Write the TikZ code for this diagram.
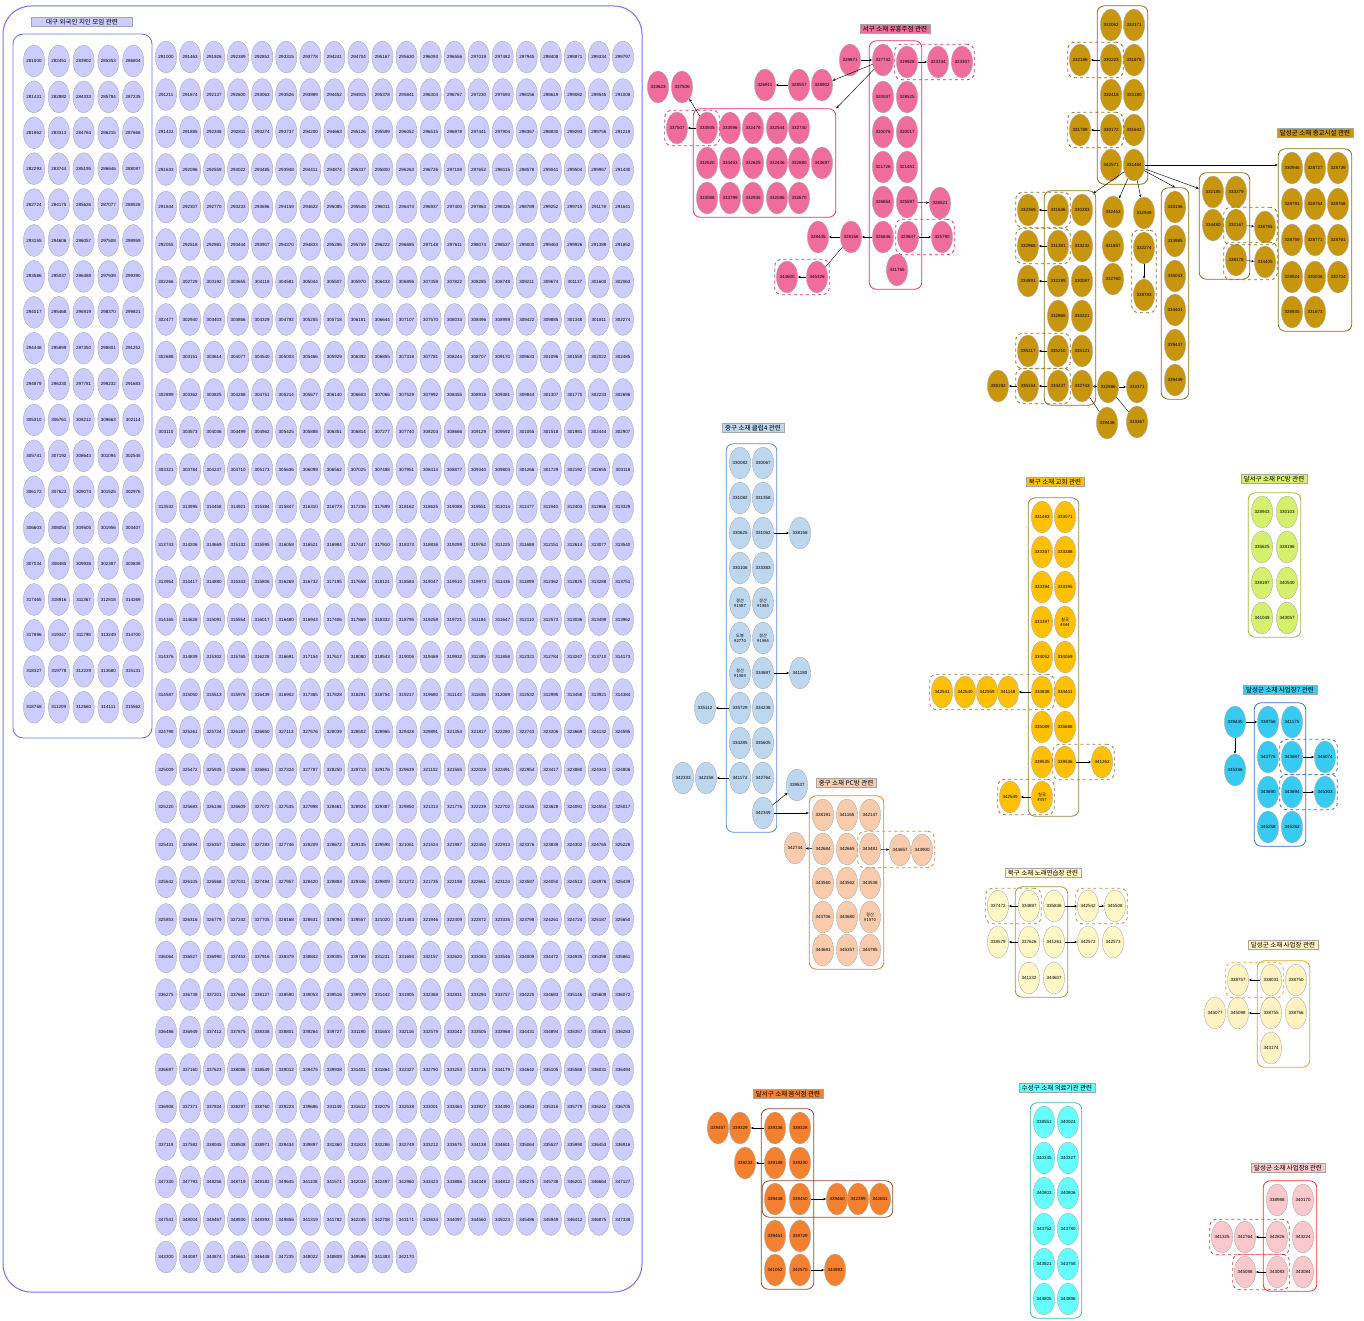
\documentclass[tikz,border=0pt]{standalone}
\usepackage{fontspec}
\setmainfont{Liberation Sans}
\newfontfamily\kr{Noto Sans CJK KR}
\usetikzlibrary{shapes.geometric,fit,arrows.meta,calc}

\definecolor{lavF}{HTML}{CCCCFF}
\definecolor{lavD}{HTML}{7272EE}
\definecolor{pinkF}{HTML}{F06C9B}
\definecolor{pinkD}{HTML}{E0306A}
\definecolor{goldF}{HTML}{C8960C}
\definecolor{goldD}{HTML}{8B6D1C}
\definecolor{cluF}{HTML}{BDD7EE}
\definecolor{cluD}{HTML}{4F8FCC}
\definecolor{peaF}{HTML}{F8CBAD}
\definecolor{peaD}{HTML}{ED7D31}
\definecolor{yelF}{HTML}{FFC000}
\definecolor{yelD}{HTML}{9C7F3C}
\definecolor{limF}{HTML}{D5F06C}
\definecolor{limD}{HTML}{9BBB3B}
\definecolor{cyaF}{HTML}{38CBF2}
\definecolor{cyaD}{HTML}{2E75B6}
\definecolor{crmF}{HTML}{FFF8C6}
\definecolor{crmD}{HTML}{9E9A3C}
\definecolor{cr2F}{HTML}{FFF2C2}
\definecolor{cr2D}{HTML}{D9A82A}
\definecolor{orgF}{HTML}{F4812F}
\definecolor{orgD}{HTML}{8B4B2B}
\definecolor{aquF}{HTML}{66FFFF}
\definecolor{aquD}{HTML}{3AB8B8}
\definecolor{rosF}{HTML}{F8C8CC}
\definecolor{rosD}{HTML}{E8383C}

\tikzset{
  pt/.style={ellipse, draw=gray!65, line width=0.4pt, inner sep=0pt,
    minimum width=21pt, minimum height=32pt, align=center,
    font=\fontsize{4.5}{4.9}\selectfont},
  kpt/.style={pt, font=\kr\fontsize{4.2}{5}\selectfont},
  grp/.style={rounded corners=7pt, line width=0.8pt, inner sep=3pt},
  dgrp/.style={grp, dashed, inner sep=1.5pt},
  ttl/.style={draw=gray!70, line width=0.4pt, inner xsep=3pt, inner ysep=1.5pt,
    font=\kr\fontsize{6.5}{7}\selectfont},
  lnk/.style={-{Stealth[length=3pt,width=2.4pt]}, line width=0.45pt},
}

\begin{document}
\begin{tikzpicture}[x=1pt, y=-1pt]
\useasboundingbox (0,0) rectangle (1364,1321);

% 대구 외국인 지인 모임
\draw[lavD, line width=1pt, rounded corners=28pt] (3,6) rectangle (642,1292);
\draw[lavD, line width=0.9pt, rounded corners=10pt] (13,34) rectangle (152,738);
\node[ttl, fill=lavF, minimum width=101pt] (tlav) at (82,22) {대구 외국인 지인 모임 관련};
\foreach \r in {0,...,18}{
  \foreach \c in {0,...,4}{
    \pgfmathtruncatemacro\hi{28+int(\r/5)}
    \pgfmathtruncatemacro\lo{1000+mod(\r*431+\c*1451,9000)}
    \node[pt, fill=lavF] (a-\r-\c) at ({34+24.8*\c},{61+35.9*\r}) {\hi\lo};
  }
}
\foreach \r in {0,...,31}{
  \foreach \c in {0,...,19}{
    \pgfmathtruncatemacro\hi{29+int(\r/6)}
    \pgfmathtruncatemacro\lo{1000+mod(\r*211+\c*463,9000)}
    \node[pt, fill=lavF] (m-\r-\c) at ({166+24.05*\c},{57+37.5*\r}) {\hi\lo};
  }
}
\foreach \c in {0,...,10}{
  \pgfmathtruncatemacro\lo{1000+mod(\c*787+2300,9000)}
  \node[pt, fill=lavF] (m-32-\c) at ({166+24.05*\c},1257) {34\lo};
}

% 서구 소재 유흥주점
\node[ttl, fill=pinkF] (tpink) at (895,29) {서구 소재 유흥주점 관련};
\begin{scope}[every node/.append style={fill=pinkF}]
\node[pt] (p329871) at (850,60) {329871};
\node[pt] (p327742) at (883,60) {327742};
\node[pt] (p319928) at (907,62) {319928};
\node[pt] (p323334) at (938,62) {323334};
\node[pt] (p323307) at (962,62) {323307};
\node[pt] (p320037) at (883,97) {320037};
\node[pt] (p328525) at (907,97) {328525};
\node[pt] (p320076) at (883,132) {320076};
\node[pt] (p320017) at (907,132) {320017};
\node[pt] (p321726) at (883,167) {321726};
\node[pt] (p321451) at (907,167) {321451};
\node[pt] (p326654) at (883,202) {326654};
\node[pt] (p325597) at (907,202) {325597};
\node[pt] (p326521) at (940,203) {326521};
\node[pt] (p326846) at (883,237) {326846};
\node[pt] (p323847) at (908,237) {323847};
\node[pt] (p325790) at (942,237) {325790};
\node[pt] (p331765) at (897,270) {331765};
\node[pt] (p328158) at (851,237) {328158};
\node[pt] (p328445) at (818,237) {328445};
\node[pt] (p345326) at (817,277) {345326};
\node[pt] (p344600) at (787,277) {344600};
\node[pt] (p326911) at (765,85) {326911};
\node[pt] (p328557) at (799,85) {328557};
\node[pt] (p328902) at (822,85) {328902};
\node[pt] (p333623) at (658,87) {333623};
\node[pt] (p337506) at (682,87) {337506};
\node[pt] (p337507) at (677,128) {337507};
\node[pt] (p333505) at (707,128) {333505};
\node[pt] (p333596) at (730,128) {333596};
\node[pt] (p332479) at (753,128) {332479};
\node[pt] (p332544) at (777,128) {332544};
\node[pt] (p332740) at (799,128) {332740};
\node[pt] (p332520) at (707,163) {332520};
\node[pt] (p334453) at (730,163) {334453};
\node[pt] (p332625) at (753,163) {332625};
\node[pt] (p332436) at (777,163) {332436};
\node[pt] (p332880) at (799,163) {332880};
\node[pt] (p343697) at (822,163) {343697};
\node[pt] (p333088) at (707,198) {333088};
\node[pt] (p333799) at (730,198) {333799};
\node[pt] (p332935) at (753,198) {332935};
\node[pt] (p332086) at (777,198) {332086};
\node[pt] (p332670) at (799,198) {332670};
\end{scope}
\node[grp, draw=pinkD, fit=(p327742)(p331765)(p323847)] (pcol) {};
\node[grp, draw=pinkD, fit=(p333505)(p343697)(p333088)] (pbig) {};
\node[dgrp, draw=pinkD, fit=(p319928)(p323307)] {};
\node[dgrp, draw=pinkD, fit=(p323847)(p325790)] {};
\node[dgrp, draw=pinkD, fit=(p344600)(p345326)] {};
\node[dgrp, draw=pinkD, fit=(p337507)(p333505)] {};
\draw[lnk] (p329871) -- (p327742);
\draw[lnk] (p319928) -- (p323334);
\draw[lnk] (p325597) -- (p326521);
\draw[lnk] (p323847) -- (p325790);
\draw[lnk] (p326846) -- (p328158);
\draw[lnk] (p328158) -- (p328445);
\draw (p328158) -- (p345326);
\draw[lnk] (p345326) -- (p344600);
\draw[lnk] (p328557) -- (p326911);
\draw[lnk] (p327742) -- (p328902);
\draw[lnk] (p327742) -- (pbig.north east);
\draw[lnk] (p333505) -- (p337507);
\draw[lnk] (p333505) -- (p337506);

% 달성군 소재 종교시설
\node[ttl, fill=goldF] (tgold) at (1315,133) {달성군 소재 종교시설 관련};
\begin{scope}[every node/.append style={fill=goldF}]
\node[pt] (g332062) at (1111,25) {332062};
\node[pt] (g333171) at (1134,25) {333171};
\node[pt] (g330223) at (1111,60) {330223};
\node[pt] (g331678) at (1134,60) {331678};
\node[pt] (g332186) at (1080,60) {332186};
\node[pt] (g332418) at (1111,95) {332418};
\node[pt] (g333180) at (1134,95) {333180};
\node[pt] (g330172) at (1111,130) {330172};
\node[pt] (g331642) at (1134,130) {331642};
\node[pt] (g331799) at (1080,130) {331799};
\node[pt] (g342571) at (1111,165) {342571};
\node[pt] (g331484) at (1134,165) {331484};
\node[pt] (g330946) at (1292,168) {330946};
\node[pt] (g328727) at (1315,168) {328727};
\node[pt] (g328739) at (1338,168) {328739};
\node[pt] (g328791) at (1292,204) {328791};
\node[pt] (g328754) at (1315,204) {328754};
\node[pt] (g328758) at (1338,204) {328758};
\node[pt] (g328759) at (1292,240) {328759};
\node[pt] (g328771) at (1315,240) {328771};
\node[pt] (g328761) at (1338,240) {328761};
\node[pt] (g328924) at (1292,277) {328924};
\node[pt] (g330036) at (1315,277) {330036};
\node[pt] (g330704) at (1338,277) {330704};
\node[pt] (g328935) at (1292,312) {328935};
\node[pt] (g331673) at (1315,312) {331673};
\node[pt] (g332185) at (1213,192) {332185};
\node[pt] (g333379) at (1236,192) {333379};
\node[pt] (g334480) at (1213,225) {334480};
\node[pt] (g332167) at (1236,225) {332167};
\node[pt] (g336765) at (1265,227) {336765};
\node[pt] (g338178) at (1236,260) {338178};
\node[pt] (g334405) at (1265,262) {334405};
\node[pt] (g333156) at (1175,207) {333156};
\node[pt] (g333985) at (1175,241) {333985};
\node[pt] (g335043) at (1175,276) {335043};
\node[pt] (g334401) at (1175,310) {334401};
\node[pt] (g339447) at (1175,345) {339447};
\node[pt] (g339449) at (1175,380) {339449};
\node[pt] (g332453) at (1113,212) {332453};
\node[pt] (g331857) at (1113,246) {331857};
\node[pt] (g332760) at (1113,279) {332760};
\node[pt] (g332949) at (1144,213) {332949};
\node[pt] (g332274) at (1144,248) {332274};
\node[pt] (g338783) at (1144,295) {338783};
\node[pt] (g331646) at (1058,210) {331646};
\node[pt] (g330283) at (1082,210) {330283};
\node[pt] (g331381) at (1058,246) {331381};
\node[pt] (g333232) at (1082,246) {333232};
\node[pt] (g332299) at (1058,281) {332299};
\node[pt] (g330087) at (1082,281) {330087};
\node[pt] (g332865) at (1058,316) {332865};
\node[pt] (g334221) at (1082,316) {334221};
\node[pt] (g335210) at (1058,351) {335210};
\node[pt] (g335121) at (1082,351) {335121};
\node[pt] (g334437) at (1058,386) {334437};
\node[pt] (g332743) at (1082,386) {332743};
\node[pt] (g332369) at (1028,210) {332369};
\node[pt] (g332968) at (1028,246) {332968};
\node[pt] (g334891) at (1028,281) {334891};
\node[pt] (g335317) at (1028,351) {335317};
\node[pt] (g335164) at (1028,386) {335164};
\node[pt] (g338192) at (998,386) {338192};
\node[pt] (g332986) at (1108,387) {332986};
\node[pt] (g333371) at (1137,387) {333371};
\node[pt] (g339446) at (1107,423) {339446};
\node[pt] (g333367) at (1137,422) {333367};
\end{scope}
\node[grp, draw=goldD, fit=(g332062)(g331484)] (gtop) {};
\node[grp, draw=goldD, fit=(g330946)(g328739)(g331673)] (grel) {};
\node[grp, draw=goldD, fit=(g332185)(g333379)(g338178)] (gmid) {};
\node[grp, draw=goldD, fit=(g333156)(g339449)] (gcol) {};
\node[grp, draw=goldD, fit=(g331646)(g330283)(g332743)] (gleft) {};
\node[dgrp, draw=goldD, fit=(g332186)(g330223)] {};
\node[dgrp, draw=goldD, fit=(g331799)(g330172)] {};
\node[dgrp, draw=goldD, fit=(g332167)(g336765)] {};
\node[dgrp, draw=goldD, fit=(g338178)(g334405)] {};
\node[dgrp, draw=goldD, fit=(g332274)(g338783)] {};
\node[dgrp, draw=goldD, fit=(g332369)(g331646)] {};
\node[dgrp, draw=goldD, fit=(g332968)(g331381)] {};
\node[dgrp, draw=goldD, fit=(g335317)(g335210)] {};
\node[dgrp, draw=goldD, fit=(g335164)(g334437)] {};
\draw[lnk] (g330223) -- (g332186);
\draw[lnk] (g330172) -- (g331799);
\draw[lnk] (g331484) -- (grel.west |- g331484);
\draw[lnk] (g331484) -- ($(gmid.north west)!0.15!(gmid.south west)$);
\draw[lnk] (g331484) -- (gcol.north);
\draw[lnk] (g331484) -- (g332949);
\draw[lnk] (g331484) -- (g332453);
\draw[lnk] (g331484) -- ($(gleft.north east)+(-3,3)$);
\draw[lnk] (g332167) -- (g336765);
\draw[lnk] (g338178) -- (g334405);
\draw[lnk] (g332274) -- (g338783);
\draw[lnk] (g331646) -- (g332369);
\draw[lnk] (g331381) -- (g332968);
\draw[lnk] (g332299) -- (g334891);
\draw[lnk] (g335210) -- (g335317);
\draw[lnk] (g334437) -- (g335164);
\draw[lnk] (g335164) -- (g338192);
\draw[lnk] (g332743) -- (g332986);
\draw[lnk] (g332986) -- (g333371);
\draw (g332743) -- (g339446);
\draw (g332986) -- (g333367);

% 중구 소재 클럽4
\node[ttl, fill=cluF] (tclub) at (753,428) {중구 소재 클럽4 관련};
\begin{scope}[every node/.append style={fill=cluF}]
\node[pt] (c330082) at (740,463) {330082};
\node[pt] (c330067) at (763,463) {330067};
\node[pt] (c331082) at (740,498) {331082};
\node[pt] (c331358) at (763,498) {331358};
\node[pt] (c330625) at (740,533) {330625};
\node[pt] (c331062) at (763,533) {331062};
\node[pt] (c338158) at (800,533) {338158};
\node[pt] (c330106) at (740,568) {330106};
\node[pt] (c333383) at (763,568) {333383};
\node[kpt] (c1987) at (740,603) {경산\\\#1987};
\node[kpt] (c1985) at (763,603) {경산\\\#1985};
\node[kpt] (c2770) at (740,638) {도봉\\\#2770};
\node[kpt] (c1986) at (763,638) {경산\\\#1986};
\node[kpt] (c1984) at (740,673) {경산\\\#1984};
\node[pt] (c334687) at (763,673) {334687};
\node[pt] (c341180) at (800,673) {341180};
\node[pt] (c335729) at (740,708) {335729};
\node[pt] (c334238) at (763,708) {334238};
\node[pt] (c335112) at (705,708) {335112};
\node[pt] (c334285) at (740,743) {334285};
\node[pt] (c335605) at (763,743) {335605};
\node[pt] (c341174) at (740,778) {341174};
\node[pt] (c342764) at (763,778) {342764};
\node[pt] (c342158) at (706,778) {342158};
\node[pt] (c342333) at (683,778) {342333};
\node[pt] (c342349) at (763,813) {342349};
\node[pt] (c339537) at (797,785) {339537};
\end{scope}
\node[grp, draw=cluD, fit=(c330082)(c330067)(c342349)(c341174)] (cbox) {};
\draw[lnk] (c331062) -- (c338158);
\draw[lnk] (c334687) -- (c341180);
\draw[lnk] (c335729) -- (c335112);
\draw[lnk] (c341174) -- (c342158);
\draw[lnk] (c342349) -- (c339537);

% 중구 소재 PC방
\node[ttl, fill=peaF] (tpc) at (846,783) {중구 소재 PC방 관련};
\begin{scope}[every node/.append style={fill=peaF}]
\node[pt] (e338191) at (823,815) {338191};
\node[pt] (e341165) at (847,815) {341165};
\node[pt] (e342147) at (870,815) {342147};
\node[pt] (e342684) at (823,849) {342684};
\node[pt] (e342665) at (847,849) {342665};
\node[pt] (e343481) at (870,849) {343481};
\node[pt] (e342744) at (795,848) {342744};
\node[pt] (e344657) at (900,850) {344657};
\node[pt] (e343900) at (922,850) {343900};
\node[pt] (e343560) at (823,883) {343560};
\node[pt] (e343562) at (847,883) {343562};
\node[pt] (e343538) at (870,883) {343538};
\node[pt] (e343706) at (823,917) {343706};
\node[pt] (e343680) at (847,917) {343680};
\node[kpt] (e1970) at (870,917) {경산\\\#1970};
\node[pt] (e344681) at (823,950) {344681};
\node[pt] (e345357) at (847,950) {345357};
\node[pt] (e344795) at (870,950) {344795};
\end{scope}
\node[grp, draw=peaD, fit=(e338191)(e342147)(e344681)(e344795)] (pcbox) {};
\node[dgrp, draw=peaD, fit=(e343481)(e343900)] {};
\draw[lnk] (c342349) -- (pcbox.west |- c342349);
\draw[lnk] (e342684) -- (e342744);
\draw[lnk] (e343481) -- (e344657);

% 북구 소재 교회
\node[ttl, fill=yelF] (tchurch) at (1055,482) {북구 소재 교회 관련};
\begin{scope}[every node/.append style={fill=yelF}]
\node[pt] (y331483) at (1042,517) {331483};
\node[pt] (y333071) at (1065,517) {333071};
\node[pt] (y333357) at (1042,552) {333357};
\node[pt] (y333388) at (1065,552) {333388};
\node[pt] (y333394) at (1042,587) {333394};
\node[pt] (y333395) at (1065,587) {333395};
\node[pt] (y333397) at (1042,622) {333397};
\node[kpt] (y344) at (1065,622) {칠곡\\\#344};
\node[pt] (y334052) at (1042,657) {334052};
\node[pt] (y334059) at (1065,657) {334059};
\node[pt] (y334838) at (1042,692) {334838};
\node[pt] (y334441) at (1065,692) {334441};
\node[pt] (y341148) at (1008,692) {341148};
\node[pt] (y342559) at (987,692) {342559};
\node[pt] (y342540) at (965,692) {342540};
\node[pt] (y342541) at (942,692) {342541};
\node[pt] (y335089) at (1042,727) {335089};
\node[pt] (y335688) at (1065,727) {335688};
\node[pt] (y339535) at (1042,762) {339535};
\node[pt] (y339536) at (1065,762) {339536};
\node[pt] (y341263) at (1102,762) {341263};
\node[kpt] (y357) at (1042,797) {칠곡\\\#357};
\node[pt] (y342549) at (1010,797) {342549};
\end{scope}
\node[grp, draw=yelD, fit=(y331483)(y333071)(y357)] (ybox) {};
\node[dgrp, draw=yelD, fit=(y342541)(y334838)] {};
\node[dgrp, draw=yelD, fit=(y339536)(y341263)] {};
\node[dgrp, draw=yelD, fit=(y342549)(y357)] {};
\draw[lnk] (y334838) -- (y341148);
\draw[lnk] (y339536) -- (y341263);
\draw[lnk] (y357) -- (y342549);

% 달서구 소재 PC방
\node[ttl, fill=limF] (tlime) at (1274,479) {달서구 소재 PC방 관련};
\begin{scope}[every node/.append style={fill=limF}]
\node[pt] (l328943) at (1262,512) {328943};
\node[pt] (l330103) at (1287,512) {330103};
\node[pt] (l335625) at (1262,547) {335625};
\node[pt] (l338196) at (1287,547) {338196};
\node[pt] (l338197) at (1262,583) {338197};
\node[pt] (l340540) at (1287,583) {340540};
\node[pt] (l341049) at (1262,618) {341049};
\node[pt] (l343057) at (1287,618) {343057};
\end{scope}
\node[grp, draw=limD, fit=(l328943)(l343057)] (lbox) {};

% 달성군 소재 사업장7
\node[ttl, fill=cyaF] (tcyan) at (1280,690) {달성군 소재 사업장7 관련};
\begin{scope}[every node/.append style={fill=cyaF}]
\node[pt] (s338756) at (1268,722) {338756};
\node[pt] (s341175) at (1292,722) {341175};
\node[pt] (s343776) at (1268,757) {343776};
\node[pt] (s343687) at (1292,757) {343687};
\node[pt] (s343690) at (1268,792) {343690};
\node[pt] (s343694) at (1292,792) {343694};
\node[pt] (s345258) at (1268,827) {345258};
\node[pt] (s345262) at (1292,827) {345262};
\node[pt] (s339445) at (1235,722) {339445};
\node[pt] (s345346) at (1235,770) {345346};
\node[pt] (s345074) at (1325,757) {345074};
\node[pt] (s345303) at (1325,792) {345303};
\end{scope}
\node[grp, draw=cyaD, fit=(s338756)(s345262)] (sbox) {};
\node[dgrp, draw=cyaD, fit=(s343687)(s345074)] {};
\node[dgrp, draw=cyaD, fit=(s343694)(s345303)] {};
\draw[lnk] (s339445) -- (s338756);
\draw[lnk] (s339445) -- (s345346);
\draw[lnk] (s343687) -- (s345074);
\draw[lnk] (s343694) -- (s345303);

% 북구 소재 노래연습장
\node[ttl, fill=crmF] (tsing) at (1043,873) {북구 소재 노래연습장 관련};
\begin{scope}[every node/.append style={fill=crmF}]
\node[pt] (n334897) at (1029,906) {334897};
\node[pt] (n335846) at (1054,906) {335846};
\node[pt] (n337472) at (998,906) {337472};
\node[pt] (n342542) at (1088,906) {342542};
\node[pt] (n345508) at (1115,906) {345508};
\node[pt] (n337626) at (1029,942) {337626};
\node[pt] (n341261) at (1054,942) {341261};
\node[pt] (n338579) at (998,942) {338579};
\node[pt] (n342572) at (1088,942) {342572};
\node[pt] (n342573) at (1113,942) {342573};
\node[pt] (n341132) at (1029,978) {341132};
\node[pt] (n344607) at (1054,978) {344607};
\end{scope}
\node[grp, draw=crmD, fit=(n334897)(n344607)] (nbox) {};
\node[dgrp, draw=crmD, fit=(n337472)(n334897)] {};
\node[dgrp, draw=crmD, fit=(n342542)(n345508)] {};
\draw[lnk] (n334897) -- (n337472);
\draw[lnk] (n335846) -- (n342542);
\draw[lnk] (n342542) -- (n345508);
\draw[lnk] (n337626) -- (n338579);
\draw[lnk] (n341261) -- (n342572);

% 달성군 소재 사업장
\node[ttl, fill=cr2F] (twork) at (1283,945) {달성군 소재 사업장 관련};
\begin{scope}[every node/.append style={fill=cr2F}]
\node[pt] (w338031) at (1271,980) {338031};
\node[pt] (w338750) at (1296,980) {338750};
\node[pt] (w338757) at (1238,980) {338757};
\node[pt] (w338755) at (1271,1013) {338755};
\node[pt] (w338756) at (1296,1013) {338756};
\node[pt] (w345098) at (1238,1013) {345098};
\node[pt] (w345077) at (1215,1013) {345077};
\node[pt] (w343174) at (1271,1048) {343174};
\end{scope}
\node[grp, draw=cr2D, fit=(w338031)(w338750)(w343174)] (wbox) {};
\node[dgrp, draw=cr2D, fit=(w338757)(w338031)] {};
\draw[lnk] (w338031) -- (w338757);
\draw[lnk] (w338755) -- (w345098);

% 달서구 소재 음식점
\node[ttl, fill=orgF] (tfood) at (788,1094) {달서구 소재 음식점 관련};
\begin{scope}[every node/.append style={fill=orgF}]
\node[pt] (o339336) at (775,1128) {339336};
\node[pt] (o339328) at (800,1128) {339328};
\node[pt] (o339329) at (740,1128) {339329};
\node[pt] (o339457) at (718,1128) {339457};
\node[pt] (o339188) at (775,1163) {339188};
\node[pt] (o339230) at (800,1163) {339230};
\node[pt] (o339233) at (745,1163) {339233};
\node[pt] (o339448) at (775,1199) {339448};
\node[pt] (o339450) at (800,1199) {339450};
\node[pt] (o339460) at (837,1199) {339460};
\node[pt] (o342399) at (858,1199) {342399};
\node[pt] (o342651) at (880,1199) {342651};
\node[pt] (o339451) at (775,1236) {339451};
\node[pt] (o339729) at (800,1236) {339729};
\node[pt] (o341052) at (775,1270) {341052};
\node[pt] (o342570) at (800,1270) {342570};
\node[pt] (o344893) at (835,1270) {344893};
\end{scope}
\node[grp, draw=orgD, fit=(o339336)(o339328)(o342570)] (obox) {};
\node[grp, draw=orgD, inner sep=2pt, fit=(o339448)(o342651)] (orow) {};
\draw[lnk] (o339336) -- (o339329);
\draw[lnk] (o339188) -- (o339233);
\draw[lnk] (o339450) -- (o339460);
\draw[lnk] (o342570) -- (o344893);

% 수성구 소재 의료기관
\node[ttl, fill=aquF] (tmed) at (1057,1088) {수성구 소재 의료기관 관련};
\begin{scope}[every node/.append style={fill=aquF}]
\node[pt] (h338551) at (1044,1122) {338551};
\node[pt] (h340024) at (1068,1122) {340024};
\node[pt] (h340345) at (1044,1158) {340345};
\node[pt] (h340327) at (1068,1158) {340327};
\node[pt] (h340803) at (1044,1193) {340803};
\node[pt] (h340806) at (1068,1193) {340806};
\node[pt] (h343752) at (1044,1229) {343752};
\node[pt] (h343780) at (1068,1229) {343780};
\node[pt] (h343821) at (1044,1264) {343821};
\node[pt] (h343758) at (1068,1264) {343758};
\node[pt] (h343805) at (1044,1299) {343805};
\node[pt] (h344896) at (1068,1299) {344896};
\end{scope}
\node[grp, draw=aquD, fit=(h338551)(h344896)] (hbox) {};

% 달성군 소재 사업장8
\node[ttl, fill=rosF] (tros) at (1288,1168) {달성군 소재 사업장8 관련};
\begin{scope}[every node/.append style={fill=rosF}]
\node[pt] (r338988) at (1277,1200) {338988};
\node[pt] (r340170) at (1303,1200) {340170};
\node[pt] (r342826) at (1277,1237) {342826};
\node[pt] (r343224) at (1303,1237) {343224};
\node[pt] (r343083) at (1277,1272) {343083};
\node[pt] (r343084) at (1303,1272) {343084};
\node[pt] (r342764) at (1245,1237) {342764};
\node[pt] (r341325) at (1222,1237) {341325};
\node[pt] (r345088) at (1245,1272) {345088};
\end{scope}
\node[grp, draw=rosD, fit=(r338988)(r343084)] (rbox) {};
\node[dgrp, draw=rosD, fit=(r341325)(r342826)] {};
\node[dgrp, draw=rosD, fit=(r345088)(r343083)] {};
\draw[lnk] (r342826) -- (r342764);
\draw[lnk] (r343083) -- (r345088);

\end{tikzpicture}
\end{document}
